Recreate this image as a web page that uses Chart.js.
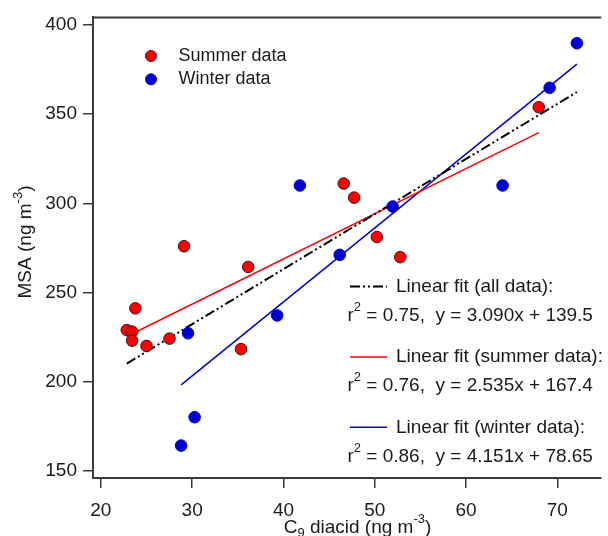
<!DOCTYPE html>
<html>
<head>
<meta charset="utf-8">
<script src="https://cdn.jsdelivr.net/npm/chart.js@4"></script>
<style>
  body { margin: 0; background: #fff; overflow: hidden; }
  canvas { display: block; }
</style>
</head>
<body>
<canvas id="chart" width="608" height="536"></canvas>
<script>
// summer points (C9 diacid, MSA)
const summerX = [22.84, 23.42, 23.42, 23.78, 25.0, 27.52, 29.11, 35.35, 36.14, 46.6, 47.74, 50.23, 52.79, 67.96];
const summerY = [228.9, 228.0, 223.0, 241.1, 220.0, 224.1, 275.9, 218.2, 264.3, 311.1, 303.2, 281.1, 269.8, 353.9];
// winter points
const winterX = [28.79, 29.55, 30.27, 39.31, 41.8, 46.16, 51.96, 64.0, 69.15, 72.14];
const winterY = [164.1, 227.1, 180.0, 237.1, 310.0, 271.1, 298.2, 310.0, 364.8, 389.8];

// fits: all, summer, winter
const fitNames = ["all data", "summer data", "winter data"];
const fitR2 = [0.75, 0.76, 0.86];
const fitSlope = [3.090, 2.535, 4.151];
const fitIntercept = [139.5, 167.4, 78.65];

const xTicks = [20, 30, 40, 50, 60, 70];
const yTicks = [150, 200, 250, 300, 350, 400];

const FONT = "'Liberation Sans', Arial, sans-serif";
const INK = "#1a1a1a";
const AXIS = "#3a3a3a";
const RED = "#ff0000";
const BLUE = "#0000cc";

const toPts = (xs, ys) => xs.map((x, i) => ({ x: x, y: ys[i] }));
const allX = summerX.concat(winterX);
const fitX = [allX, summerX, winterX];
const fitLine = i => {
  const lo = Math.min(...fitX[i]), hi = Math.max(...fitX[i]);
  return [lo, hi].map(x => ({ x: x, y: fitSlope[i] * x + fitIntercept[i] }));
};

// text with sub/superscripts
function drawRich(ctx, parts, x, y, align) {
  const big = "19px " + FONT, small = "13px " + FONT;
  let w = 0;
  parts.forEach(p => { ctx.font = p.s ? small : big; w += ctx.measureText(p.t).width; });
  let cx = align === "center" ? x - w / 2 : x;
  ctx.textAlign = "left";
  ctx.textBaseline = "middle";
  ctx.fillStyle = INK;
  parts.forEach(p => {
    ctx.font = p.s ? small : big;
    const dy = p.s === "sup" ? -8 : p.s === "sub" ? 6 : 0;
    ctx.fillText(p.t, cx, y + dy);
    cx += ctx.measureText(p.t).width;
  });
}

const decor = {
  id: "decor",
  afterDraw(chart) {
    const ctx = chart.ctx, a = chart.chartArea;
    ctx.save();
    // top frame
    ctx.strokeStyle = AXIS;
    ctx.lineWidth = 2;
    ctx.beginPath();
    ctx.moveTo(a.left - 1, a.top);
    ctx.lineTo(a.right, a.top);
    ctx.stroke();

    // legend
    const leg = [["Summer data", RED, "#3a1a1a"], ["Winter data", BLUE, BLUE]];
    leg.forEach((l, i) => {
      const y = 56 + i * 23.3;
      ctx.beginPath();
      ctx.arc(151, y, 5.5, 0, Math.PI * 2);
      ctx.fillStyle = l[1];
      ctx.fill();
      ctx.lineWidth = 1;
      ctx.strokeStyle = l[2];
      ctx.stroke();
      ctx.font = "18px " + FONT;
      ctx.fillStyle = INK;
      ctx.textAlign = "left";
      ctx.textBaseline = "middle";
      ctx.fillText(l[0], 178.5, y);
    });

    // fit annotations
    const styles = [
      { c: "#000", w: 2, d: [10, 3, 2, 3, 2, 3] },
      { c: RED, w: 1.5, d: [] },
      { c: BLUE, w: 1.5, d: [] }
    ];
    fitNames.forEach((n, i) => {
      const y = 286.5 + i * 70.4;
      ctx.beginPath();
      ctx.setLineDash(styles[i].d);
      ctx.strokeStyle = styles[i].c;
      ctx.lineWidth = styles[i].w;
      ctx.moveTo(350, y);
      ctx.lineTo(387, y);
      ctx.stroke();
      ctx.setLineDash([]);
      drawRich(ctx, [{ t: "Linear fit (" + n + "):" }], 396, y, "left");
      drawRich(ctx, [
        { t: "r" }, { t: "2", s: "sup" },
        { t: " = " + fitR2[i].toFixed(2) + ",  y = " + fitSlope[i].toFixed(3) + "x + " + fitIntercept[i].toPrecision(4) }
      ], 347.5, y + 29, "left");
    });

    // axis titles
    drawRich(ctx, [{ t: "C" }, { t: "9", s: "sub" }, { t: " diacid (ng m" }, { t: "-3", s: "sup" }, { t: ")" }], 357.5, 527.5, "center");
    ctx.translate(26, 242);
    ctx.rotate(-Math.PI / 2);
    drawRich(ctx, [{ t: "MSA (ng m" }, { t: "-3", s: "sup" }, { t: ")" }], 0, 0, "center");
    ctx.restore();
  }
};

new Chart(document.getElementById("chart"), {
  type: "scatter",
  data: {
    datasets: [
      {
        label: "Summer data",
        data: toPts(summerX, summerY),
        backgroundColor: RED,
        borderColor: "#3a1a1a",
        borderWidth: 1,
        pointRadius: 5.8
      },
      {
        label: "Winter data",
        data: toPts(winterX, winterY),
        backgroundColor: BLUE,
        borderColor: BLUE,
        borderWidth: 1,
        pointRadius: 5.8
      },
      {
        label: "Linear fit (all data)",
        data: fitLine(0),
        showLine: true,
        pointRadius: 0,
        borderColor: "#000",
        borderWidth: 2,
        borderDash: [10, 3, 2, 3, 2, 3]
      },
      {
        label: "Linear fit (summer data)",
        data: fitLine(1),
        showLine: true,
        pointRadius: 0,
        borderColor: RED,
        borderWidth: 1.5
      },
      {
        label: "Linear fit (winter data)",
        data: fitLine(2),
        showLine: true,
        pointRadius: 0,
        borderColor: BLUE,
        borderWidth: 1.5
      }
    ]
  },
  options: {
    responsive: false,
    animation: false,
    layout: { padding: { top: 13, right: 0, bottom: 0, left: 0 } },
    plugins: { legend: { display: false }, tooltip: { enabled: false } },
    scales: {
      x: {
        type: "linear",
        min: 19.14,
        max: 74.8,
        afterBuildTicks: s => { s.ticks = xTicks.map(v => ({ value: v })); },
        afterFit: s => { s.height = 58; },
        grid: { drawOnChartArea: false, drawTicks: true, tickLength: 10, color: AXIS, lineWidth: 1.5 },
        border: { display: true, color: AXIS, width: 2 },
        ticks: { color: INK, font: { family: FONT, size: 19 }, padding: 11, maxRotation: 0 }
      },
      y: {
        type: "linear",
        min: 145.9,
        max: 404.3,
        afterBuildTicks: s => { s.ticks = yTicks.map(v => ({ value: v })); },
        afterFit: s => { s.width = 93; },
        grid: { drawOnChartArea: false, drawTicks: true, tickLength: 10, color: AXIS, lineWidth: 1.5 },
        border: { display: true, color: AXIS, width: 2 },
        ticks: { color: INK, font: { family: FONT, size: 19 }, padding: 6 }
      }
    }
  },
  plugins: [decor]
});
</script>
</body>
</html>
